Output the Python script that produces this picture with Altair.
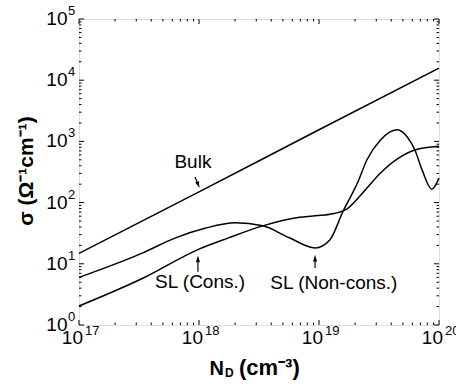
import altair as alt
import pandas as pd

# ---- data (log-log axes) ----
bulk_nd = [1e17, 1e18, 1e19, 1e20]
bulk_sigma = [14.8, 150, 1550, 15800]

cons_nd = [1e17, 3.4e17, 1e18, 1.74e18, 3.4e18, 6.9e18, 8.9e18, 1.23e19,
           1.66e19, 2.34e19, 3.24e19, 4.47e19, 6.3e19, 1e20]
cons_sigma = [2.04, 5.8, 17.4, 26.3, 41.7, 57.5, 60.3, 64.6,
              75.9, 148, 302, 513, 724, 832]

noncons_nd = [1e17, 3.4e17, 6.3e17, 1.12e18, 2.0e18, 3.4e18, 5.6e18, 9.3e18,
              1.23e19, 1.58e19, 2.09e19, 2.51e19, 3.24e19, 4.47e19, 5.5e19,
              6.3e19, 7.24e19, 8.7e19, 1e20]
noncons_sigma = [6.0, 15.1, 26.3, 38.0, 46.8, 41.7, 26.9, 18.2,
                 24.5, 70.8, 209, 501, 1047, 1549, 1148,
                 724, 339, 166, 251]

# annotations
label_text = ["Bulk", "SL (Cons.)", "SL (Non-cons.)"]
label_x = [8.9e17, 1.02e18, 1.33e19]
label_y = [457, 5.0, 4.86]

arrow_x1 = [9.26e17, 9.8e17, 9.27e18]
arrow_y1 = [263, 7.4, 8.5]
arrow_x2 = [9.86e17, 9.8e17, 9.27e18]
arrow_y2 = [195, 12.0, 12.4]
arrow_shape = ["M-0.6,-1L0.6,-1L0,1Z", "M-0.6,1L0.6,1L0,-1Z", "M-0.6,1L0.6,1L0,-1Z"]
arrow_angle = [338, 0, 0]

# ticks and tick labels (base "10" and exponent)
x_major = [1e17, 1e18, 1e19, 1e20]
x_exp = ["17", "18", "19", "20"]
x_minor = [k * 10.0 ** e for e in (17, 18, 19) for k in range(2, 10)]
y_major = [1, 10, 100, 1e3, 1e4, 1e5]
y_exp = ["0", "1", "2", "3", "4", "5"]
y_minor = [k * 10.0 ** e for e in range(0, 5) for k in range(2, 10)]

W, H = 360, 306
FONT = "Liberation Sans"

xs = alt.Scale(type="log", domain=[1e17, 1e20], nice=False)
ys = alt.Scale(type="log", domain=[1, 1e5], nice=False)


def X(f):
    return alt.X(f, scale=xs, axis=None)


def Y(f):
    return alt.Y(f, scale=ys, axis=None)


df = pd.concat([
    pd.DataFrame({"nd": bulk_nd, "sigma": bulk_sigma, "series": "Bulk"}),
    pd.DataFrame({"nd": cons_nd, "sigma": cons_sigma, "series": "SL (Cons.)"}),
    pd.DataFrame({"nd": noncons_nd, "sigma": noncons_sigma, "series": "SL (Non-cons.)"}),
])

lines = alt.Chart(df).mark_line(color="black", strokeWidth=1.5, interpolate="monotone").encode(
    x=X("nd:Q"), y=Y("sigma:Q"), detail="series:N")

ann = pd.DataFrame({"t": label_text, "x": label_x, "y": label_y})
texts = alt.Chart(ann).mark_text(font=FONT, fontSize=19, color="black", baseline="middle",
                                 align="center").encode(x=X("x:Q"), y=Y("y:Q"), text="t:N")

arr = pd.DataFrame({"x1": arrow_x1, "y1": arrow_y1, "x2": arrow_x2, "y2": arrow_y2,
                    "shape": arrow_shape, "angle": arrow_angle})
arrow_lines = alt.Chart(arr).mark_rule(color="black", strokeWidth=1.2).encode(
    x=X("x1:Q"), y=Y("y1:Q"), x2="x2:Q", y2="y2:Q")
arrow_heads = alt.Chart(arr).mark_point(filled=True, color="black", size=45, opacity=1).encode(
    x=X("x2:Q"), y=Y("y2:Q"),
    shape=alt.Shape("shape:N", scale=None), angle=alt.Angle("angle:Q", scale=None))


def xticks(vals, ln):
    b = alt.Chart(pd.DataFrame({"v": vals})).mark_rule(color="black", strokeWidth=1)
    return [b.encode(x=X("v:Q"), y=alt.value(H), y2=alt.value(H - ln)),
            b.encode(x=X("v:Q"), y=alt.value(0), y2=alt.value(ln))]


def yticks(vals, ln):
    b = alt.Chart(pd.DataFrame({"v": vals})).mark_rule(color="black", strokeWidth=1)
    return [b.encode(y=Y("v:Q"), x=alt.value(0), x2=alt.value(ln)),
            b.encode(y=Y("v:Q"), x=alt.value(W), x2=alt.value(W - ln))]


tick_layers = xticks(x_major, 5) + xticks(x_minor, 2.5) + yticks(y_major, 5) + yticks(y_minor, 2.5)

# tick labels
xl = pd.DataFrame({"v": x_major, "e": x_exp, "b": "10"})
yl = pd.DataFrame({"v": y_major, "e": y_exp, "b": "10"})
xlab_base = alt.Chart(xl).mark_text(font=FONT, fontSize=19, align="right", baseline="middle",
                                    dx=4, color="black").encode(x=X("v:Q"), y=alt.value(H + 12.5), text="b:N")
xlab_exp = alt.Chart(xl).mark_text(font=FONT, fontSize=13, align="left", baseline="middle",
                                   dx=6, color="black").encode(x=X("v:Q"), y=alt.value(H + 6), text="e:N")
ylab_base = alt.Chart(yl).mark_text(font=FONT, fontSize=19, align="right", baseline="middle",
                                    color="black").encode(y=Y("v:Q"), x=alt.value(-11.5), text="b:N")
ylab_exp = alt.Chart(yl).mark_text(font=FONT, fontSize=13, align="left", baseline="middle",
                                   dy=-8, color="black").encode(y=Y("v:Q"), x=alt.value(-11), text="e:N")

ytitle = alt.Chart(pd.DataFrame({"t": ["σ (Ω⁻¹cm⁻¹)"]})).mark_text(
    font=FONT, fontSize=21, fontWeight="bold", angle=270, align="center", baseline="middle", color="black"
).encode(text="t:N", x=alt.value(-52), y=alt.value(152))
xtitle_n = alt.Chart(pd.DataFrame({"t": ["N"]})).mark_text(
    font=FONT, fontSize=20, fontWeight="bold", align="right", baseline="alphabetic", color="black"
).encode(text="t:N", x=alt.value(145), y=alt.value(356))
xtitle_d = alt.Chart(pd.DataFrame({"t": ["D"]})).mark_text(
    font=FONT, fontSize=12, fontWeight="bold", align="left", baseline="alphabetic", color="black"
).encode(text="t:N", x=alt.value(146), y=alt.value(357.5))
xtitle_u = alt.Chart(pd.DataFrame({"t": ["(cm⁻³)"]})).mark_text(
    font=FONT, fontSize=22, fontWeight="bold", align="left", baseline="alphabetic", color="black"
).encode(text="t:N", x=alt.value(160), y=alt.value(356))

chart = alt.layer(lines, *tick_layers, arrow_lines, arrow_heads, texts,
                  xlab_base, xlab_exp, ylab_base, ylab_exp,
                  ytitle, xtitle_n, xtitle_d, xtitle_u).properties(
    width=W, height=H,
    padding={"left": 79, "top": 19, "right": 17, "bottom": 65},
    autosize=alt.AutoSizeParams(type="none"),
).configure_view(stroke="black", strokeWidth=2).configure(background="white")

chart.save("out.html", embed_options={"renderer": "svg", "actions": False})
